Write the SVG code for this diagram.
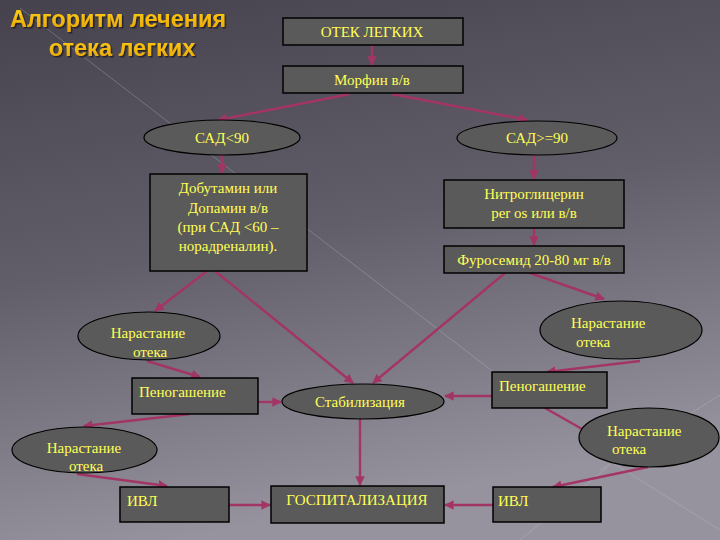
<svg xmlns="http://www.w3.org/2000/svg" width="720" height="540" viewBox="0 0 720 540">
<defs>
  <linearGradient id="bg" x1="0" y1="0" x2="0.25" y2="1">
    <stop offset="0" stop-color="#46424d"/>
    <stop offset="0.5" stop-color="#615e6a"/>
    <stop offset="1" stop-color="#96939e"/>
  </linearGradient>
  <linearGradient id="gold" x1="0" y1="0" x2="0" y2="1">
    <stop offset="0" stop-color="#ffd21a"/>
    <stop offset="1" stop-color="#e8a400"/>
  </linearGradient>
  <filter id="sh" x="-10%" y="-20%" width="120%" height="160%">
    <feDropShadow dx="1.5" dy="1.5" stdDeviation="0.6" flood-color="#1a1a22" flood-opacity="0.9"/>
  </filter>
  <marker id="ah" viewBox="0 0 10 10" refX="9" refY="5" markerWidth="4" markerHeight="4" orient="auto-start-reverse">
    <path d="M0,0 L10,5 L0,10 z" fill="#a33565"/>
  </marker>
  <style>
    .box{fill:#5b5a5a;stroke:#000;stroke-width:1.5}
    .ell{fill:#5b5a5a;stroke:#000;stroke-width:1.2}
    .t{font-family:"Liberation Serif","Times New Roman",serif;font-size:15px;fill:#ffff55}
    .c{text-anchor:middle}
    .ttl{font-family:"Liberation Sans",Arial,sans-serif;font-weight:bold;font-size:23.5px;fill:url(#gold);text-anchor:middle}
    .ln{stroke:#a33565;stroke-width:2.4;fill:none;marker-end:url(#ah)}
    .ln0{stroke:#a33565;stroke-width:2.4;fill:none}
    .deco{stroke:#c8c6d2;stroke-width:1;opacity:0.3;fill:none}
  </style>
</defs>
<rect width="720" height="540" fill="url(#bg)"/>
<g id="decor">
  <line class="deco" x1="20" y1="8" x2="530" y2="400"/>
  <line class="deco" x1="720" y1="395" x2="600" y2="470"/>
  <line class="deco" x1="600" y1="455" x2="720" y2="530"/>
  <line class="deco" x1="520" y1="540" x2="610" y2="465"/>
</g>
<g id="title" filter="url(#sh)">
  <text class="ttl" x="118" y="27">Алгоритм лечения</text>
  <text class="ttl" x="122" y="56">отека легких</text>
</g>
<g id="connectors">
  <line class="ln" x1="372" y1="45" x2="372" y2="65"/>
  <line class="ln" x1="350" y1="94" x2="218" y2="120"/>
  <line class="ln" x1="392" y1="94" x2="527" y2="120"/>
  <line class="ln" x1="222" y1="155" x2="222" y2="173"/>
  <line class="ln" x1="534" y1="155" x2="534" y2="179"/>
  <line class="ln" x1="534" y1="228" x2="534" y2="245"/>
  <line class="ln" x1="207" y1="271" x2="155" y2="311"/>
  <line class="ln" x1="215" y1="271" x2="353" y2="383"/>
  <line class="ln" x1="505" y1="273" x2="373" y2="383"/>
  <line class="ln" x1="530" y1="273" x2="604" y2="299"/>
  <line class="ln" x1="147" y1="361" x2="200" y2="377"/>
  <line class="ln" x1="258" y1="402" x2="281" y2="402"/>
  <line class="ln" x1="190" y1="414" x2="84" y2="426"/>
  <line class="ln" x1="77" y1="474" x2="167" y2="486"/>
  <line class="ln" x1="229" y1="505" x2="270" y2="505"/>
  <line class="ln" x1="360" y1="419" x2="360" y2="485"/>
  <line class="ln" x1="640" y1="361" x2="547" y2="372"/>
  <line class="ln" x1="492" y1="396" x2="445" y2="396"/>
  <line class="ln0" x1="545" y1="408" x2="582" y2="429"/>
  <line class="ln" x1="648" y1="467" x2="553" y2="487"/>
  <line class="ln" x1="493" y1="505" x2="445" y2="505"/>
</g>
<g id="otek">
  <rect class="box" x="283" y="18" width="180" height="27"/>
  <text class="t c" x="372" y="37">ОТЕК ЛЕГКИХ</text>
</g>
<g id="morfin">
  <rect class="box" x="283" y="66" width="180" height="27"/>
  <text class="t c" x="372" y="85">Морфин в/в</text>
</g>
<g id="sad_lt90">
  <ellipse class="ell" cx="222" cy="137.5" rx="78" ry="17.5"/>
  <text class="t c" x="222" y="143">САД&lt;90</text>
</g>
<g id="sad_ge90">
  <ellipse class="ell" cx="537" cy="138" rx="80" ry="17"/>
  <text class="t c" x="537" y="143">САД&gt;=90</text>
</g>
<g id="dobutamin">
  <rect class="box" x="150" y="174" width="157" height="97"/>
  <text class="t c" x="228" y="193">Добутамин или</text>
  <text class="t c" x="228" y="213">Допамин в/в</text>
  <text class="t c" x="228" y="232">(при САД &lt;60 –</text>
  <text class="t c" x="228" y="251">норадреналин).</text>
</g>
<g id="nitro">
  <rect class="box" x="444" y="180" width="180" height="48"/>
  <text class="t c" x="534" y="199">Нитроглицерин</text>
  <text class="t c" x="534" y="218">per os или в/в</text>
</g>
<g id="furosemid">
  <rect class="box" x="444" y="246" width="180" height="27"/>
  <text class="t c" x="534" y="265">Фуросемид 20-80 мг в/в</text>
</g>
<g id="narast1">
  <ellipse class="ell" cx="149" cy="336" rx="71" ry="24"/>
  <text class="t c" x="148" y="338">Нарастание</text>
  <text class="t c" x="150" y="357">отека</text>
</g>
<g id="narast2">
  <ellipse class="ell" cx="621" cy="330" rx="81" ry="29"/>
  <text class="t" x="571" y="328">Нарастание</text>
  <text class="t" x="576" y="347">отека</text>
</g>
<g id="penog1">
  <rect class="box" x="132" y="378" width="126" height="36"/>
  <text class="t" x="139" y="397">Пеногашение</text>
</g>
<g id="penog2">
  <rect class="box" x="492" y="372" width="115" height="36"/>
  <text class="t" x="499" y="391">Пеногашение</text>
</g>
<g id="stabil">
  <ellipse class="ell" cx="363" cy="401.5" rx="81" ry="17.5"/>
  <text class="t c" x="360" y="407">Стабилизация</text>
</g>
<g id="narast3">
  <ellipse class="ell" cx="84.5" cy="450" rx="72.5" ry="23"/>
  <text class="t c" x="84" y="453">Нарастание</text>
  <text class="t c" x="86" y="471">отека</text>
</g>
<g id="narast4">
  <ellipse class="ell" cx="649" cy="437.5" rx="70" ry="29.5"/>
  <text class="t" x="607" y="436">Нарастание</text>
  <text class="t" x="612" y="454">отека</text>
</g>
<g id="ivl1">
  <rect class="box" x="120" y="487" width="109" height="35"/>
  <text class="t" x="127" y="506">ИВЛ</text>
</g>
<g id="gospital">
  <rect class="box" x="271" y="486" width="173" height="37"/>
  <text class="t c" x="357" y="505">ГОСПИТАЛИЗАЦИЯ</text>
</g>
<g id="ivl2">
  <rect class="box" x="493" y="487" width="108" height="35"/>
  <text class="t" x="498" y="506">ИВЛ</text>
</g>
</svg>
